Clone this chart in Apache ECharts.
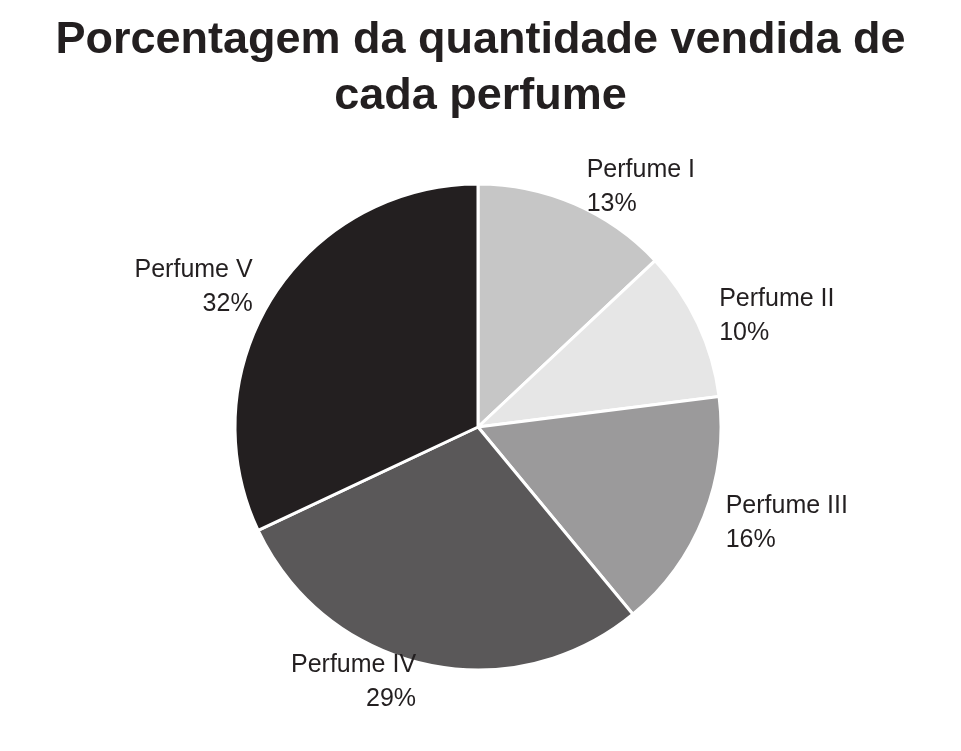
<!DOCTYPE html>
<html><head><meta charset="utf-8">
<script src="https://cdn.jsdelivr.net/npm/echarts@6/dist/echarts.min.js"></script>
<style>html,body{margin:0;background:#fff}#c{width:961px;height:751px}</style>
</head><body><div id="c"></div>
<script>
const categories = ['Perfume I','Perfume II','Perfume III','Perfume IV','Perfume V'];
const values = [13,10,16,29,32];
const colors = ['#c6c6c6','#e6e6e6','#9b9a9b','#5a5859','#231f20'];
const chart = echarts.init(document.getElementById('c'));
chart.setOption({
  backgroundColor:'#fff',
  animation:false,
  title:{text:'Porcentagem da quantidade vendida de\ncada perfume',left:'center',top:8,
    textStyle:{fontFamily:'Liberation Sans',fontWeight:'bold',fontSize:45,lineHeight:56,color:'#231f20'}},
  series:[{type:'pie',center:[478,427],radius:[0,243],startAngle:90,clockwise:true,
    itemStyle:{borderColor:'#fff',borderWidth:3},
    label:{show:true,position:'outside',formatter:'{b}\n{c}%',fontFamily:'Liberation Sans',fontSize:25,lineHeight:34,color:'#231f20'},
    labelLine:{show:false,length:18,length2:0},
    data:categories.map((n,i)=>({name:n,value:values[i],itemStyle:{color:colors[i]}}))
  }]
});
</script></body></html>
